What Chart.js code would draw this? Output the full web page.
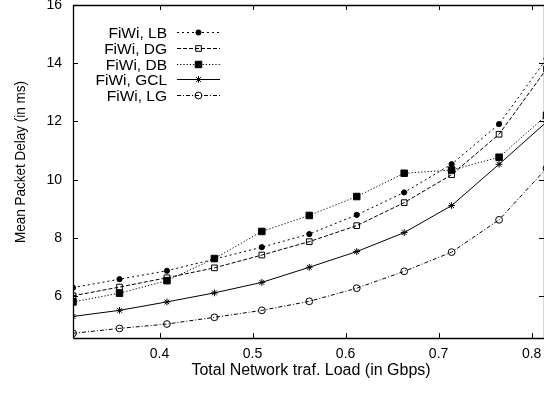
<!DOCTYPE html>
<html>
<head>
<meta charset="utf-8">
<script src="https://cdn.jsdelivr.net/npm/chart.js@4/dist/chart.umd.min.js"></script>
<style>
  html, body { margin: 0; padding: 0; background: #fff; }
  #wrap { width: 544px; height: 393px; position: relative; }
</style>
</head>
<body>
<div id="wrap"><canvas id="c" width="544" height="393"></canvas></div>
<script>
// Offered load (Gbps) at each simulation point
const loads = [0.307, 0.357, 0.408, 0.459, 0.510, 0.561, 0.612, 0.663, 0.714, 0.765, 0.816];

// Mean packet delay (ms) per routing scheme
const delayLB  = [6.29, 6.58, 6.87, 7.27, 7.68, 8.13, 8.79, 9.56, 10.53, 11.91, 14.15];
const delayDG  = [6.01, 6.31, 6.63, 6.97, 7.41, 7.87, 8.42, 9.21, 10.17, 11.56, 13.80];
const delayDB  = [5.80, 6.10, 6.53, 7.29, 8.22, 8.77, 9.42, 10.22, 10.33, 10.77, 12.21];
const delayGCL = [5.30, 5.51, 5.80, 6.11, 6.47, 6.99, 7.53, 8.18, 9.11, 10.53, 11.98];
const delayLG  = [4.72, 4.89, 5.04, 5.27, 5.51, 5.82, 6.27, 6.85, 7.51, 8.62, 10.39];

const seriesNames = ['FiWi, LB', 'FiWi, DG', 'FiWi, DB', 'FiWi, GCL', 'FiWi, LG'];

const xTickValues = [0.4, 0.5, 0.6, 0.7, 0.8];
const yTickValues = [6, 8, 10, 12, 14, 16];

const xTitle = 'Total Network traf. Load (in Gbps)';
const yTitle = 'Mean Packet Delay (in ms)';

const FONT = '"Liberation Sans", Arial, Helvetica, sans-serif';
const INK = '#000';

function pts(ys) { return ys.map((y, i) => ({ x: loads[i], y: y })); }

const styles = [
  { dash: [2, 3],       pointStyle: 'circle', radius: 2.6, fill: INK },
  { dash: [4, 2],       pointStyle: 'rect',   radius: 4.0, fill: 'rgba(0,0,0,0)' },
  { dash: [1.2, 2],     pointStyle: 'rect',   radius: 4.6, fill: INK },
  { dash: [],           pointStyle: 'star',   radius: 3.4, fill: 'rgba(0,0,0,0)' },
  { dash: [4, 2, 1, 2], pointStyle: 'circle', radius: 3.4, fill: 'rgba(0,0,0,0)' }
];

const seriesData = [delayLB, delayDG, delayDB, delayGCL, delayLG];

const datasets = seriesData.map((ys, i) => ({
  label: seriesNames[i],
  data: pts(ys),
  borderColor: INK,
  borderWidth: 1,
  borderDash: styles[i].dash,
  pointStyle: styles[i].pointStyle,
  pointRadius: styles[i].radius,
  pointHoverRadius: styles[i].radius,
  pointBackgroundColor: styles[i].fill,
  pointBorderColor: INK,
  pointBorderWidth: 1,
  tension: 0,
  fill: false
}));

function noOverflow(s) {
  s.paddingTop = 0; s.paddingBottom = 0; s.paddingLeft = 0; s.paddingRight = 0;
}

// Frame, inward tick marks on all four sides, axis titles and key
const framePlugin = {
  id: 'frame',
  afterDraw(chart) {
    const { ctx, chartArea: a, scales } = chart;
    const xs = scales.x, ys = scales.y;
    ctx.save();
    ctx.strokeStyle = INK;
    ctx.lineWidth = 1.3;
    ctx.setLineDash([]);
    ctx.beginPath();
    ctx.moveTo(a.left + 0.5, a.bottom + 0.5);
    ctx.lineTo(a.left + 0.5, a.top + 0.5);
    ctx.lineTo(a.right + 0.5, a.top + 0.5);
    ctx.lineTo(a.right + 0.5, a.bottom + 0.5);
    ctx.lineTo(a.left + 0.5, a.bottom + 0.5);
    ctx.stroke();

    const tl = 5;
    ctx.lineWidth = 1;
    ctx.beginPath();
    xTickValues.forEach(v => {
      const px = Math.round(xs.getPixelForValue(v)) + 0.5;
      ctx.moveTo(px, a.bottom); ctx.lineTo(px, a.bottom - tl);
      ctx.moveTo(px, a.top);    ctx.lineTo(px, a.top + tl);
    });
    yTickValues.forEach(v => {
      const py = Math.round(ys.getPixelForValue(v)) + 0.5;
      ctx.moveTo(a.left, py);  ctx.lineTo(a.left + tl, py);
      ctx.moveTo(a.right, py); ctx.lineTo(a.right - tl, py);
    });
    ctx.stroke();

    // axis titles
    ctx.fillStyle = INK;
    ctx.font = '16px ' + FONT;
    ctx.textAlign = 'center';
    ctx.textBaseline = 'alphabetic';
    ctx.fillText(xTitle, 311, 375);

    ctx.font = '13.5px ' + FONT;
    ctx.textBaseline = 'middle';
    ctx.save();
    ctx.translate(21, 162);
    ctx.rotate(-Math.PI / 2);
    ctx.scale(1, 1.15);
    ctx.fillText(yTitle, 0, 0);
    ctx.restore();

    // key
    ctx.font = '15.5px ' + FONT;
    ctx.textAlign = 'right';
    ctx.textBaseline = 'alphabetic';
    const textRight = 167, x0 = 177, x1 = 220, mid = (x0 + x1) / 2;
    chart.data.datasets.forEach((ds, i) => {
      const base = 38.3 + i * 15.7;
      ctx.fillStyle = INK;
      ctx.fillText(ds.label, textRight, base);
      const ly = Math.round(base - 6) + 0.5;
      ctx.strokeStyle = INK;
      ctx.lineWidth = 1;
      ctx.setLineDash(ds.borderDash);
      ctx.beginPath();
      ctx.moveTo(x0, ly);
      ctx.lineTo(x1, ly);
      ctx.stroke();
      ctx.setLineDash([]);
      ctx.fillStyle = ds.pointBackgroundColor;
      ctx.strokeStyle = INK;
      Chart.helpers.drawPoint(ctx, {
        pointStyle: ds.pointStyle, radius: ds.pointRadius, rotation: 0, borderWidth: 1
      }, mid, ly);
    });
    ctx.restore();
  }
};

new Chart(document.getElementById('c'), {
  type: 'line',
  data: { datasets },
  options: {
    responsive: false,
    animation: false,
    devicePixelRatio: 1,
    layout: { autoPadding: false, padding: { top: 5, right: 0, left: 0, bottom: 0 } },
    plugins: { legend: { display: false }, tooltip: { enabled: false } },
    scales: {
      x: {
        type: 'linear',
        position: 'bottom',
        min: 0.307,
        max: 0.8133,
        afterBuildTicks: s => { s.ticks = xTickValues.map(v => ({ value: v })); },
        afterFit: s => { s.height = 55; noOverflow(s); },
        ticks: {
          autoSkip: false, maxRotation: 0, padding: 8, color: INK,
          font: { family: FONT, size: 14 },
          callback: v => v.toFixed(1)
        },
        grid: { display: false, drawTicks: false },
        border: { display: false }
      },
      y: {
        type: 'linear',
        min: 4.56,
        max: 16,
        afterBuildTicks: s => { s.ticks = yTickValues.map(v => ({ value: v })); },
        afterFit: s => { s.width = 73; noOverflow(s); },
        ticks: {
          padding: 11, color: INK,
          font: { family: FONT, size: 14 },
          callback: v => String(v)
        },
        grid: { display: false, drawTicks: false },
        border: { display: false }
      }
    }
  },
  plugins: [framePlugin]
});
</script>
</body>
</html>
